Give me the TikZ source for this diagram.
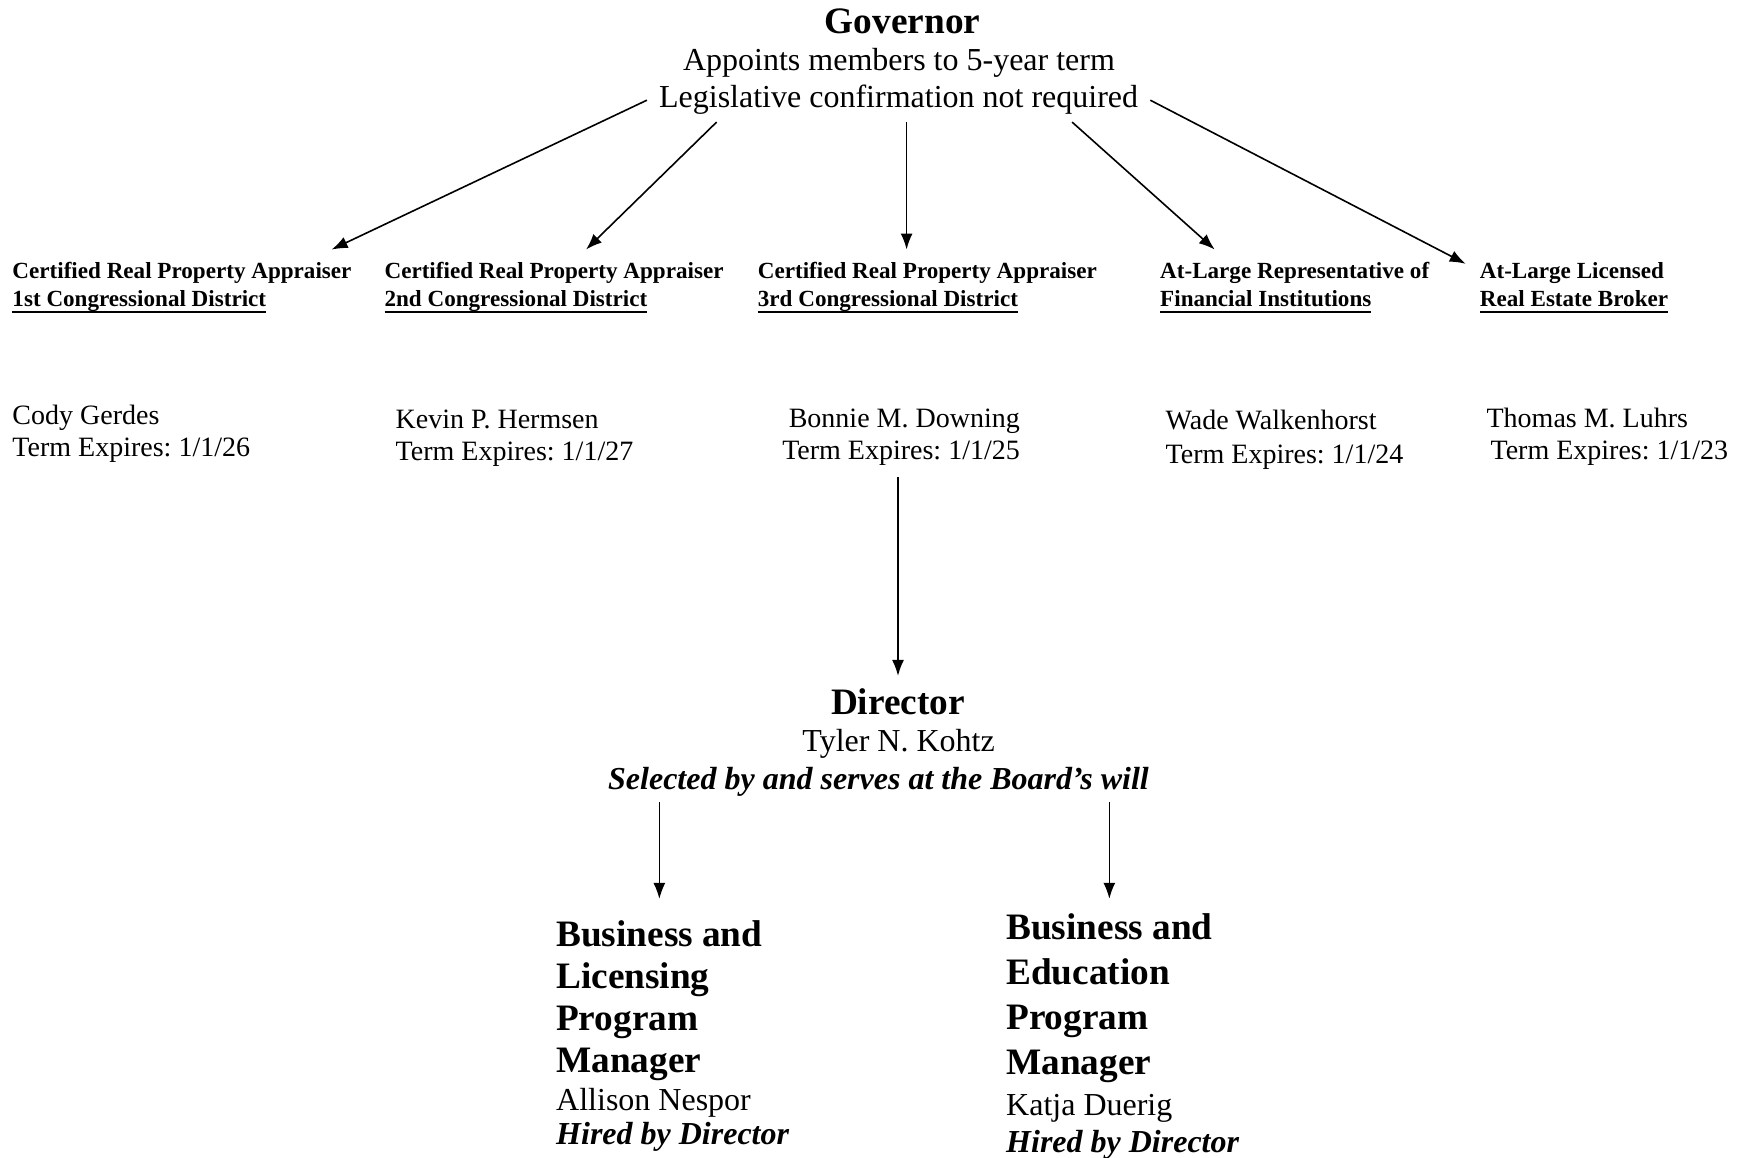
\documentclass[tikz,border=0pt]{standalone}
\usepackage{fontspec}
\setmainfont{Liberation Serif}
\usepackage{tikz}
\usetikzlibrary{arrows.meta,positioning}
\newsavebox{\distbox}
\newcommand{\distline}[1]{\sbox\distbox{#1}\rlap{\rule[-7pt]{\wd\distbox}{2pt}}\usebox\distbox}
\frenchspacing

\begin{document}
\begin{tikzpicture}[x=1pt,y=-1pt]
    \tikzstyle{bigtitle} = [inner sep=0pt, font=\fontsize{37.3}{42}\selectfont\bfseries]
    \tikzstyle{plaintext} = [inner sep=0pt, anchor=base, font=\fontsize{32}{37}\selectfont]
    \tikzstyle{seat} = [inner xsep=0pt, inner ysep=12pt, align=left, anchor=base west, font=\fontsize{23.1}{28}\selectfont\bfseries]
    \tikzstyle{member} = [inner sep=0pt, align=left, anchor=base west, font=\fontsize{28}{32}\selectfont]
    \tikzstyle{arr} = [-{Latex[length=16pt,width=12pt]}, line width=1.6pt]

    \useasboundingbox (0,0) rectangle (1747,1158);

    \node [bigtitle, anchor=base] (gov) at (902.5,34) {Governor};
    \node [plaintext] (appoint) at (899,71) {Appoints members to 5-year term};
    \node [plaintext, inner xsep=12pt, inner ysep=7pt] (legis) at (898.6,108) {Legislative confirmation not required};

    % Board seats
    \node [seat] (seat1) at (12.3,306) {Certified Real Property Appraiser\\\distline{1st Congressional District}};
    \node [seat] (seat2) at (384.4,306) {Certified Real Property Appraiser\\\distline{2nd Congressional District}};
    \node [seat] (seat3) at (757.7,306) {Certified Real Property Appraiser\\\distline{3rd Congressional District}};
    \node [seat] (seat4) at (1160,306) {At-Large Representative of\\\distline{Financial Institutions}};
    \node [seat] (seat5) at (1479.7,306) {At-Large Licensed\\\distline{Real Estate Broker}};

    % Members
    \node [member] (member1) at (12.3,456) {Cody Gerdes\\Term Expires: 1/1/26};
    \node [member] (member2) at (395.5,460) {Kevin P. Hermsen\\Term Expires: 1/1/27};
    \node [member, align=right, anchor=base east, inner ysep=12pt] (member3) at (1020,459) {Bonnie M. Downing\\Term Expires: 1/1/25};
    \node [member] (member4) at (1165.5,463.6) {Wade Walkenhorst\\[2pt]Term Expires: 1/1/24};
    \node [member] (member5) at (1486.4,459) {Thomas M. Luhrs\\\hspace*{4pt}Term Expires: 1/1/23};

    \draw [arr] (legis.west) -- ([xshift=-20pt]seat1.north east);
    \draw [arr] ([xshift=-182pt]legis.south) -- ([xshift=32pt]seat2.north);
    \draw [arr] ([xshift=8pt]legis.south) -- ([xshift=8pt]legis.south |- seat3.north);
    \draw [arr] ([xshift=173.5pt]legis.south) -- ([xshift=-80pt]seat4.north);
    \draw [arr] (legis.east) -- ([xshift=-14pt,yshift=-14pt]seat5.north west);

    % Director
    \node [bigtitle, anchor=base, inner ysep=12pt] (dir) at (898,714) {Director};
    \node [plaintext] (tyler) at (898.6,751) {Tyler N. Kohtz};
    \node [plaintext, inner ysep=6pt] (sel) at (878.5,789) {\textbf{\textit{Selected by and serves at the Board's will}}};
    \draw [arr] (dir.north |- member3.south) -- (dir.north);

    % Program managers
    \node [bigtitle, align=left, anchor=base west, inner ysep=21pt] (lic) at (556,1072) {Business and\\Licensing\\Program\\Manager};
    \node [plaintext, align=left, anchor=base west, font=\fontsize{32}{34}\selectfont] (licname) at (556,1144) {Allison Nespor\\\textbf{\textit{Hired by Director}}};
    \node [bigtitle, align=left, anchor=base west, inner ysep=15pt, font=\fontsize{37.3}{44.7}\selectfont\bfseries] (edu) at (1006,1074) {Business and\\Education\\Program\\Manager};
    \node [plaintext, align=left, anchor=base west, font=\fontsize{32}{37}\selectfont] (eduname) at (1006,1152) {Katja Duerig\\\textbf{\textit{Hired by Director}}};
    \draw [arr] (sel.south -| lic.north) -- (lic.north);
    \draw [arr] (sel.south -| edu.north) -- (edu.north);
\end{tikzpicture}
\end{document}
